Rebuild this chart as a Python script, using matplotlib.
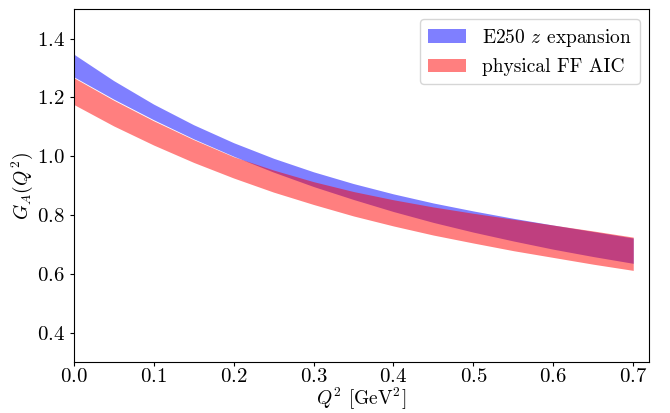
import matplotlib
matplotlib.use('Agg')
import matplotlib.pyplot as plt
import numpy as np

plt.rcParams['font.family'] = 'serif'
plt.rcParams['font.serif'] = ['cmr10']
plt.rcParams['mathtext.fontset'] = 'cm'
plt.rcParams['axes.formatter.use_mathtext'] = True

# Q^2 grid (GeV^2) and band edges
q2 = [0.0, 0.05, 0.10, 0.15, 0.20, 0.25, 0.30, 0.35, 0.40, 0.45, 0.50, 0.55, 0.60, 0.65, 0.70]

z_hi = [1.347, 1.257, 1.177, 1.107, 1.046, 0.993, 0.947, 0.907, 0.872, 0.841,
        0.814, 0.789, 0.766, 0.744, 0.722]
z_lo = [1.270, 1.194, 1.124, 1.059, 1.000, 0.946, 0.897, 0.853, 0.812, 0.775,
        0.742, 0.712, 0.684, 0.659, 0.636]

ff_hi = [1.267, 1.1905, 1.1205, 1.0565, 0.9985, 0.953, 0.9135, 0.880, 0.852, 0.8275,
         0.806, 0.786, 0.766, 0.746, 0.725]
ff_lo = [1.176, 1.103, 1.038, 0.979, 0.926, 0.878, 0.836, 0.797, 0.763, 0.732,
         0.705, 0.679, 0.656, 0.633, 0.612]

fig = plt.figure(figsize=(6.7, 4.13), dpi=100)
ax = fig.add_axes([0.110, 0.123, 0.859, 0.855])

ax.fill_between(q2, z_lo, z_hi, color='blue', alpha=0.5, lw=0,
                label=r'E250 $z$ expansion')
ax.fill_between(q2, ff_lo, ff_hi, color='red', alpha=0.5, lw=0,
                label='physical FF AIC')

ax.set_xlim(0, 0.72)
ax.set_ylim(0.3, 1.5)
ax.set_xticks(np.arange(0, 0.75, 0.1))
ax.set_yticks([0.4, 0.6, 0.8, 1.0, 1.2, 1.4])
ax.tick_params(labelsize=15, length=3)
ax.tick_params(axis='x', pad=1)
ax.set_xlabel(r'$Q^2$ [GeV$^2$]', fontsize=14, labelpad=0)
ax.set_ylabel(r'$G_A(Q^2)$', fontsize=14, labelpad=1)
ax.legend(loc='upper right', fontsize=14)

fig.savefig('out.png', dpi=100)
